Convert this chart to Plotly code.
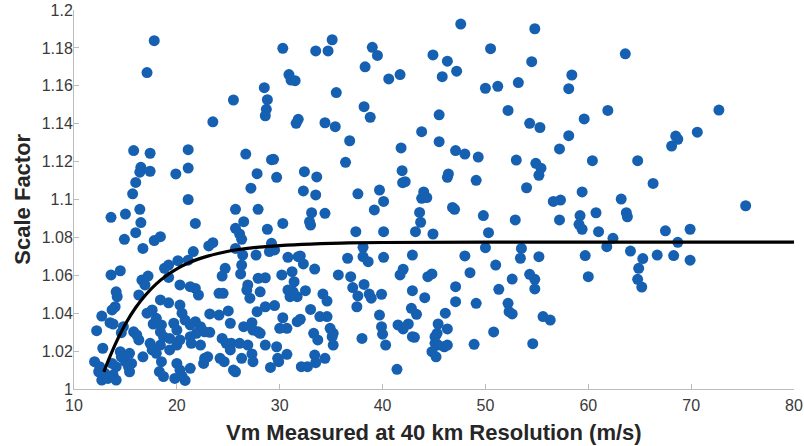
import plotly.graph_objects as go

# (Vm measured at 40 km, scale factor) samples
samples = [
    # upper band, scale factor above 1.10
    (17.8, 1.1838), (17.1, 1.1670), (25.5, 1.1525), (23.5, 1.1410), (15.8, 1.1258),
    (17.4, 1.1244), (21.1, 1.1263), (21.1, 1.1166), (19.9, 1.1135), (17.4, 1.1149),
    (16.5, 1.1170), (16.4, 1.1144), (16.0, 1.1090), (26.7, 1.1240), (27.8, 1.1136),
    (29.2, 1.1210), (29.4, 1.1212), (29.7, 1.1117), (28.5, 1.1590), (28.8, 1.1527),
    (28.7, 1.1476), (28.6, 1.1442), (30.3, 1.1798), (30.9, 1.1659), (31.1, 1.1630),
    (31.5, 1.1627), (31.8, 1.1423), (31.6, 1.1402), (32.4, 1.1147), (27.2, 1.1060),
    (21.1, 1.1000), (15.7, 1.1030),
    (47.6, 1.1926), (33.5, 1.1784), (34.7, 1.1784), (35.1, 1.1843), (39.0, 1.1803),
    (39.5, 1.1760), (44.9, 1.1763), (46.3, 1.1730), (50.5, 1.1796), (38.3, 1.1700),
    (41.7, 1.1659), (40.6, 1.1636), (45.8, 1.1648), (47.2, 1.1677), (35.5, 1.1564),
    (50.0, 1.1587), (51.2, 1.1597), (53.2, 1.1617), (38.2, 1.1490), (38.8, 1.1434),
    (45.5, 1.1447), (52.2, 1.1470), (34.4, 1.1405), (35.4, 1.1384), (36.8, 1.1310),
    (43.8, 1.1358), (41.8, 1.1272), (45.5, 1.1305), (47.1, 1.1258), (48.0, 1.1240),
    (49.3, 1.1224), (53.0, 1.1208), (33.6, 1.1119), (36.4, 1.1196), (41.9, 1.1152),
    (41.95, 1.1089), (42.2, 1.1094), (46.4, 1.1135), (46.3, 1.1117), (49.1, 1.1101),
    (32.3, 1.1045), (33.5, 1.1024), (37.6, 1.1030), (39.7, 1.1050), (44.0, 1.1040),
    (43.8, 1.1006), (44.3, 1.1010), (54.0, 1.1062), (40.1, 1.0990),
    (54.8, 1.1901), (54.5, 1.1727), (63.6, 1.1769), (58.4, 1.1657), (58.1, 1.1585),
    (61.9, 1.1470), (72.7, 1.1472), (59.6, 1.1425), (54.3, 1.1402), (55.3, 1.1380),
    (58.1, 1.1337), (57.2, 1.1267), (70.6, 1.1355), (68.5, 1.1335), (68.7, 1.1318),
    (68.1, 1.1282), (60.4, 1.1205), (64.8, 1.1205), (54.9, 1.1191), (55.4, 1.1165),
    (55.2, 1.1128), (66.3, 1.1085), (59.4, 1.1040), (56.6, 1.0990), (57.3, 1.0997),
    (63.2, 1.1002),
    # high winds, below 1.10
    (75.3, 1.0967), (57.2, 1.0892), (59.2, 1.0915), (59.1, 1.0869), (59.4, 1.0843),
    (60.75, 1.0930), (63.7, 1.0930), (63.8, 1.0909), (61.0, 1.0830), (62.4, 1.0795),
    (61.8, 1.0751), (67.5, 1.0835), (69.9, 1.0843), (68.7, 1.0774), (53.5, 1.0742),
    (53.4, 1.0690), (55.2, 1.0698), (59.7, 1.0704), (64.1, 1.0728), (65.3, 1.0688),
    (66.7, 1.0707), (68.3, 1.0704), (69.9, 1.0680), (64.9, 1.0637), (60.0, 1.0593),
    (54.3, 1.0605), (54.8, 1.0579), (54.8, 1.0528), (64.8, 1.0579), (65.2, 1.0538),
    (55.6, 1.0382), (56.3, 1.0364), (54.6, 1.0239),
    # 42-53 m/s
    (46.8, 1.0958), (47.0, 1.0948), (49.8, 1.0915), (52.9, 1.0892), (43.6, 1.0932),
    (43.7, 1.0880), (43.2, 1.0830), (44.9, 1.0818), (50.3, 1.0825), (50.0, 1.0746),
    (42.9, 1.0707), (48.0, 1.0702), (51.0, 1.0654), (48.5, 1.0614), (44.4, 1.0593),
    (44.8, 1.0607), (52.6, 1.0580), (47.1, 1.0540), (51.3, 1.0526), (42.9, 1.0519),
    (44.1, 1.0482), (47.1, 1.0461), (49.1, 1.0452), (52.2, 1.0452), (52.3, 1.0408),
    (52.6, 1.0396), (42.8, 1.0426), (43.3, 1.0394), (46.1, 1.0400), (45.4, 1.0343),
    (45.3, 1.0294), (46.3, 1.0317), (50.8, 1.0301), (42.9, 1.0276), (43.1, 1.0273),
    (45.1, 1.0241), (45.4, 1.0232), (44.8, 1.0197), (45.2, 1.0170), (46.0, 1.0223),
    (46.3, 1.0232), (48.9, 1.0236), (45.1, 1.0276),
    # 32-42 m/s
    (39.2, 1.0945), (33.1, 1.0930), (32.9, 1.0883), (33.0, 1.0865), (34.4, 1.0927),
    (37.4, 1.0830), (40.1, 1.0830), (38.1, 1.0748), (38.1, 1.0698), (38.6, 1.0672),
    (36.6, 1.0690), (40.1, 1.0695), (32.0, 1.0702), (32.3, 1.0660), (33.4, 1.0633),
    (35.7, 1.0602), (36.9, 1.0593), (41.7, 1.0602), (42.0, 1.0632), (32.5, 1.0519),
    (34.2, 1.0501), (34.6, 1.0464), (37.1, 1.0535), (38.2, 1.0552), (37.6, 1.0491),
    (38.7, 1.0501), (38.9, 1.0479), (39.9, 1.0500), (37.5, 1.0434), (33.0, 1.0420),
    (33.9, 1.0382), (34.6, 1.0382), (39.7, 1.0390), (32.0, 1.0368), (34.9, 1.0320),
    (35.2, 1.0294), (35.1, 1.0276), (39.9, 1.0329), (40.0, 1.0289), (41.5, 1.0338),
    (42.0, 1.0317), (42.5, 1.0343), (33.3, 1.0294), (33.7, 1.0259), (35.2, 1.0232),
    (38.0, 1.0267), (40.3, 1.0232), (33.4, 1.0179), (33.5, 1.0139), (32.7, 1.0118),
    (34.4, 1.0162), (41.4, 1.0104),
    # 21-32 m/s
    (25.7, 1.0948), (27.9, 1.0948), (21.8, 1.0874), (26.5, 1.0883), (25.7, 1.0848),
    (26.1, 1.0818), (26.3, 1.0790), (28.8, 1.0843), (30.3, 1.0874), (23.1, 1.0755),
    (23.5, 1.0772), (21.6, 1.0725), (25.7, 1.0742), (29.2, 1.0769), (29.5, 1.0734),
    (29.0, 1.0725), (26.4, 1.0707), (27.7, 1.0707), (24.7, 1.0637), (24.4, 1.0596),
    (26.3, 1.0654), (26.2, 1.0607), (30.8, 1.0695), (31.8, 1.0698), (30.2, 1.0602),
    (31.2, 1.0619), (27.9, 1.0584), (28.6, 1.0587), (31.4, 1.0566), (21.8, 1.0531),
    (22.1, 1.0496), (24.1, 1.0505), (24.5, 1.0505), (26.9, 1.0549), (26.8, 1.0522),
    (27.1, 1.0479), (28.1, 1.0513), (30.8, 1.0522), (31.0, 1.0487), (31.7, 1.0487),
    (31.3, 1.0513), (23.2, 1.0396), (25.0, 1.0412), (27.8, 1.0408), (28.6, 1.0434),
    (29.5, 1.0440), (25.2, 1.0347), (21.8, 1.0355), (22.3, 1.0329), (21.9, 1.0294),
    (22.7, 1.0302), (23.2, 1.0299), (26.5, 1.0329), (27.3, 1.0350), (27.4, 1.0311),
    (27.9, 1.0302), (28.1, 1.0294), (30.0, 1.0320), (30.7, 1.0320), (31.7, 1.0355),
    (24.4, 1.0267), (24.8, 1.0241), (25.3, 1.0241), (25.2, 1.0206), (26.1, 1.0241),
    (28.6, 1.0232), (29.7, 1.0223), (22.3, 1.0232), (22.7, 1.0162), (23.0, 1.0170),
    (22.6, 1.0135), (21.3, 1.0109), (25.7, 1.0091), (26.3, 1.0162), (27.3, 1.0185),
    (27.4, 1.0144), (29.9, 1.0144), (29.8, 1.0162), (30.7, 1.0183), (29.1, 1.0114),
    (32.1, 1.0118), (30.3, 1.0376), (24.1, 1.0390), (24.2, 1.0162), (24.6, 1.0144),
    (26.9, 1.0232), (25.5, 1.0100),
    # 12-21 m/s
    (13.6, 1.0906), (15.0, 1.0923), (16.4, 1.0948), (16.5, 1.0878), (16.0, 1.0825),
    (14.9, 1.0790), (16.7, 1.0742), (17.8, 1.0783), (18.4, 1.0804), (13.6, 1.0602),
    (14.5, 1.0624), (18.8, 1.0637), (19.2, 1.0654), (20.1, 1.0677), (21.1, 1.0680),
    (16.6, 1.0575), (17.2, 1.0596), (16.9, 1.0549), (19.2, 1.0589), (20.3, 1.0549),
    (21.3, 1.0540), (14.1, 1.0513), (14.2, 1.0487), (14.0, 1.0434), (13.7, 1.0417),
    (16.3, 1.0496), (18.4, 1.0470), (19.2, 1.0455), (20.3, 1.0443), (17.1, 1.0400),
    (12.7, 1.0385), (13.5, 1.0350), (13.8, 1.0343), (14.8, 1.0329), (14.6, 1.0297),
    (17.7, 1.0343), (18.5, 1.0338), (18.4, 1.0302), (19.7, 1.0347), (20.0, 1.0311),
    (21.3, 1.0338), (12.2, 1.0308), (15.8, 1.0302), (16.1, 1.0285), (16.3, 1.0259),
    (19.3, 1.0267), (20.3, 1.0259), (20.0, 1.0232), (21.3, 1.0276), (21.4, 1.0241),
    (12.8, 1.0215), (14.5, 1.0197), (14.6, 1.0170), (17.4, 1.0241), (17.6, 1.0206),
    (16.7, 1.0170), (18.5, 1.0144), (18.3, 1.0092), (20.0, 1.0135), (20.3, 1.0100),
    (20.8, 1.0045), (19.8, 1.0056), (18.7, 1.0066), (12.0, 1.0144), (12.5, 1.0118),
    (12.4, 1.0091), (13.0, 1.0083), (12.7, 1.0047), (13.3, 1.0056), (13.8, 1.0074),
    (14.1, 1.0047), (13.7, 1.0135), (14.1, 1.0118), (15.0, 1.0144), (15.3, 1.0118),
    (15.4, 1.0091), (15.6, 1.0135), (15.4, 1.0188), (17.6, 1.0417), (18.0, 1.0373),
    (20.5, 1.0400), (20.8, 1.0364), (18.7, 1.0276), (18.4, 1.0232), (18.0, 1.0188),
    (20.5, 1.0068), (19.3, 1.0206),
]
vm_measured = [p[0] for p in samples]
scale_factor = [p[1] for p in samples]

# fitted saturation curve
fit_vm = [12.9, 13.5, 14.2, 15.0, 16.0, 17.0, 18.0, 19.0, 20.0, 21.0, 22.0,
          23.0, 24.0, 25.0, 26.0, 28.0, 30.0, 33.0, 36.0, 40.0, 50.0, 80.0]
fit_sf = [1.0090, 1.0172, 1.0258, 1.0343, 1.0430, 1.0499, 1.0555, 1.0599, 1.0634,
          1.0662, 1.0684, 1.0701, 1.0715, 1.0727, 1.0736, 1.0749, 1.0757, 1.0765,
          1.0770, 1.0773, 1.0775, 1.0775]

x_ticks = [10, 20, 30, 40, 50, 60, 70, 80]
y_ticks = [1.0, 1.02, 1.04, 1.06, 1.08, 1.10, 1.12, 1.14, 1.16, 1.18, 1.20]
y_tick_text = ["1", "1.02", "1.04", "1.06", "1.08", "1.1", "1.12", "1.14", "1.16", "1.18", "1.2"]

FONT = "Liberation Sans, Arial, sans-serif"
AXIS_GREY = "#bcbcbc"
LABEL_GREY = "#3a3a3a"

fig = go.Figure()
fig.add_trace(go.Scatter(
    x=vm_measured, y=scale_factor, mode="markers",
    marker=dict(size=11, color="rgb(22,96,178)", line=dict(width=0)),
    showlegend=False, hoverinfo="skip",
))
fig.add_trace(go.Scatter(
    x=fit_vm, y=fit_sf, mode="lines",
    line=dict(color="black", width=3.2, shape="spline"),
    showlegend=False, hoverinfo="skip",
))

axis_common = dict(
    showgrid=False, zeroline=False, showline=True, linecolor=AXIS_GREY, linewidth=1,
    ticks="inside", ticklen=5, tickcolor=AXIS_GREY, tickwidth=1,
    tickfont=dict(family=FONT, size=16, color=LABEL_GREY),
    automargin=False, ticklabeloverflow="allow",
)
fig.update_xaxes(range=[10, 80], tickvals=x_ticks, ticklabelstandoff=2, **axis_common)
fig.update_yaxes(range=[1.0, 1.2], tickvals=y_ticks, ticktext=y_tick_text,
                 ticklabelstandoff=-3, **axis_common)

fig.add_annotation(
    text="Vm Measured at 40 km Resolution (m/s)", xref="paper", yref="paper",
    x=0.5, y=-0.115, xanchor="center", yanchor="middle", showarrow=False,
    font=dict(family=FONT, size=22, color="#262626", weight="bold"),
)
fig.add_annotation(
    text="Scale Factor", xref="paper", yref="paper",
    x=-0.072, y=0.5, xanchor="center", yanchor="middle", textangle=-90, showarrow=False,
    font=dict(family=FONT, size=22, color="#262626", weight="bold"),
)

fig.update_layout(
    width=804, height=446,
    margin=dict(l=74, r=10, t=10, b=57),
    paper_bgcolor="white", plot_bgcolor="white",
)

fig.write_html("out.html")
